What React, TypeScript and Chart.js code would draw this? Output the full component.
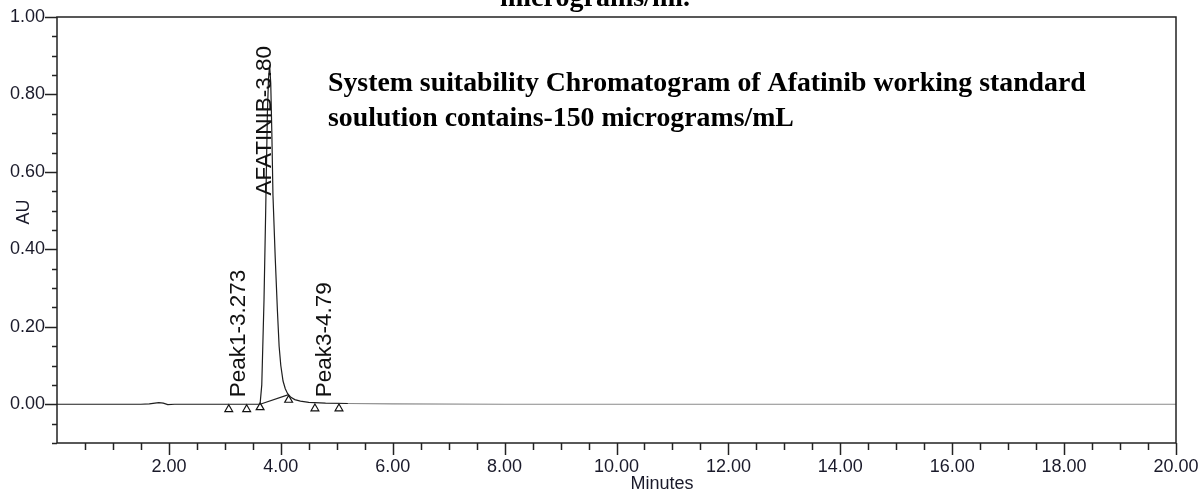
import React, { useEffect, useRef } from 'react';
import { Chart, registerables } from 'chart.js';
Chart.register(...registerables);

// Chromatogram trace (minutes, AU)
const timeMin = [0, 0.5, 1.0, 1.5, 1.65, 1.75, 1.82, 1.9, 1.98, 2.1, 2.5, 3.0, 3.3, 3.6, 3.63, 3.66, 3.70, 3.73, 3.76, 3.78, 3.80, 3.82, 3.84, 3.86, 3.90, 3.94, 3.97, 4.0, 4.04, 4.08, 4.12, 4.18, 4.25, 4.35, 4.5, 4.8, 5.2, 6, 8, 10, 12, 14, 16, 18, 20];
const absorbanceAU = [0, 0, 0, 0, 0.001, 0.003, 0.004, 0.003, -0.001, 0, 0, 0, 0, 0, 0.001, 0.05, 0.27, 0.5, 0.75, 0.84, 0.875, 0.83, 0.7, 0.54, 0.38, 0.24, 0.15, 0.1, 0.06, 0.04, 0.028, 0.018, 0.012, 0.008, 0.005, 0.003, 0.002, 0.001, 0, 0, 0, 0, 0, 0, 0];

// Integration baseline (drop line) of the main peak
const integrationTimes = [3.63, 4.14];
const integrationAU = [0.0, 0.025];

// Peak start/end markers
const markerTimes = [3.07, 3.39, 3.63, 4.14, 4.61, 5.04];
const markerAU = [-0.013, -0.013, -0.008, 0.011, -0.011, -0.011];

// Peak labels
const peakLabels = ['Peak1-3.273', 'AFATINIB-3.80', 'Peak3-4.79'];
const peakLabelTimes = [3.25, 3.71, 4.79];
const peakLabelAU = [0.018, 0.539, 0.018];

const headerText = 'micrograms/ml.';
const noteLines = [
  'System suitability Chromatogram of Afatinib working standard',
  'soulution contains-150 micrograms/mL',
];
const xAxisTitle = 'Minutes';
const yAxisTitle = 'AU';

const X_MIN = 0, X_MAX = 20, X_STEP = 0.5, X_MAJOR = 2;
const Y_MIN = -0.1, Y_MAX = 1.0, Y_STEP = 0.05, Y_MAJOR = 0.2;

const SANS = '"Liberation Sans", Arial, sans-serif';
const SERIF = '"Liberation Serif", "Times New Roman", serif';

const decorPlugin = {
  id: 'decor',
  afterDatasetsDraw(chart: any) {
    const ctx = chart.ctx;
    const xs = chart.scales.x;
    const ys = chart.scales.y;
    ctx.save();
    ctx.fillStyle = '#111';
    ctx.font = '22.5px ' + SANS;
    ctx.textAlign = 'left';
    ctx.textBaseline = 'middle';
    for (let i = 0; i < peakLabels.length; i++) {
      const px = xs.getPixelForValue(peakLabelTimes[i]);
      const py = ys.getPixelForValue(peakLabelAU[i]);
      ctx.save();
      ctx.translate(px, py);
      ctx.rotate(-Math.PI / 2);
      ctx.fillText(peakLabels[i], 0, 0);
      ctx.restore();
    }
    ctx.restore();
  },
  afterDraw(chart: any) {
    const ctx = chart.ctx;
    const xs = chart.scales.x;
    const ys = chart.scales.y;
    const a = chart.chartArea;
    ctx.save();
    ctx.strokeStyle = '#222';
    ctx.lineWidth = 1.5;
    ctx.strokeRect(a.left, a.top, a.right - a.left, a.bottom - a.top);
    const nx = Math.round((X_MAX - X_MIN) / X_STEP);
    for (let i = 1; i <= nx; i++) {
      const v = X_MIN + i * X_STEP;
      const major = Math.abs(v / X_MAJOR - Math.round(v / X_MAJOR)) < 1e-6;
      const px = Math.round(xs.getPixelForValue(v)) + 0.5;
      ctx.beginPath();
      ctx.moveTo(px, a.bottom);
      ctx.lineTo(px, a.bottom + (major ? 12 : 7));
      ctx.stroke();
    }
    const ny = Math.round((Y_MAX - Y_MIN) / Y_STEP);
    for (let i = 0; i <= ny; i++) {
      const v = Y_MIN + i * Y_STEP;
      const r = Math.round(v * 100);
      const major = r % 20 === 0;
      const py = Math.round(ys.getPixelForValue(v)) + 0.5;
      ctx.beginPath();
      ctx.moveTo(a.left, py);
      ctx.lineTo(a.left - (major ? 12 : 5), py);
      ctx.stroke();
    }
    ctx.fillStyle = '#1a1a2a';
    ctx.font = '18px ' + SANS;
    ctx.textAlign = 'center';
    ctx.textBaseline = 'alphabetic';
    ctx.fillText(xAxisTitle, 662, 489);
    ctx.save();
    ctx.translate(29, 212);
    ctx.rotate(-Math.PI / 2);
    ctx.fillText(yAxisTitle, 0, 0);
    ctx.restore();
    ctx.fillStyle = '#000';
    ctx.font = 'bold 28px ' + SERIF;
    ctx.textAlign = 'center';
    ctx.fillText(headerText, 595, 6);
    ctx.font = 'bold 27.8px ' + SERIF;
    ctx.textAlign = 'left';
    ctx.fillText(noteLines[0], 328, 91);
    ctx.fillText(noteLines[1], 328, 126);
    ctx.restore();
  },
};

export default function App() {
  const ref = useRef<HTMLCanvasElement | null>(null);
  useEffect(() => {
    if (!ref.current) return;
    const trace = timeMin.map((t, i) => ({ x: t, y: absorbanceAU[i] }));
    const base = integrationTimes.map((t, i) => ({ x: t, y: integrationAU[i] }));
    const marks = markerTimes.map((t, i) => ({ x: t, y: markerAU[i] }));
    const chart = new Chart(ref.current, {
      type: 'scatter',
      data: {
        datasets: [
          {
            data: trace,
            showLine: true,
            borderColor: '#1e1e1e',
            borderWidth: 1.2,
            pointRadius: 0,
            tension: 0,
            segment: {
              borderColor: (c: any) => (c.p0.parsed.x >= 5 ? '#8a8a8a' : '#1e1e1e'),
            },
          } as any,
          {
            data: base,
            showLine: true,
            borderColor: '#222',
            borderWidth: 1.2,
            pointRadius: 0,
          },
          {
            data: marks,
            showLine: false,
            pointStyle: 'triangle',
            pointRadius: 4.5,
            pointBackgroundColor: '#fff',
            pointBorderColor: '#111',
            pointBorderWidth: 1.2,
          },
        ],
      },
      options: {
        responsive: false,
        animation: false,
        layout: { padding: { left: 0, right: 25, top: 17, bottom: 0 } },
        plugins: { legend: { display: false }, tooltip: { enabled: false }, title: { display: false } },
        scales: {
          x: {
            type: 'linear',
            min: X_MIN,
            max: X_MAX,
            afterFit: (s: any) => { s.height = 47; s.paddingLeft = 0; s.paddingRight = 0; },
            grid: { display: false, drawTicks: false },
            border: { display: false },
            ticks: {
              stepSize: X_STEP,
              autoSkip: false,
              maxRotation: 0,
              padding: 13,
              color: '#1a1a2a',
              font: { family: SANS, size: 18 },
              callback: (v: any) => {
                const n = Number(v);
                const r = Math.round(n * 10);
                return r > 0 && r % (X_MAJOR * 10) === 0 ? n.toFixed(2) : '';
              },
            },
          },
          y: {
            type: 'linear',
            min: Y_MIN,
            max: Y_MAX,
            afterFit: (s: any) => { s.width = 57; s.paddingTop = 0; s.paddingBottom = 0; },
            grid: { display: false, drawTicks: false },
            border: { display: false },
            ticks: {
              stepSize: Y_STEP,
              autoSkip: false,
              padding: 12,
              color: '#1a1a2a',
              font: { family: SANS, size: 18 },
              callback: (v: any) => {
                const r = Math.round(Number(v) * 100);
                return r >= 0 && r % Math.round(Y_MAJOR * 100) === 0 ? (r / 100).toFixed(2) : '';
              },
            },
          },
        },
      },
      plugins: [decorPlugin],
    });
    return () => chart.destroy();
  }, []);
  return (
    <div style={{ position: 'absolute', left: 0, top: 0, width: 1201, height: 490, background: '#fff' }}>
      <canvas ref={ref} width={1201} height={490} style={{ display: 'block' }} />
    </div>
  );
}
